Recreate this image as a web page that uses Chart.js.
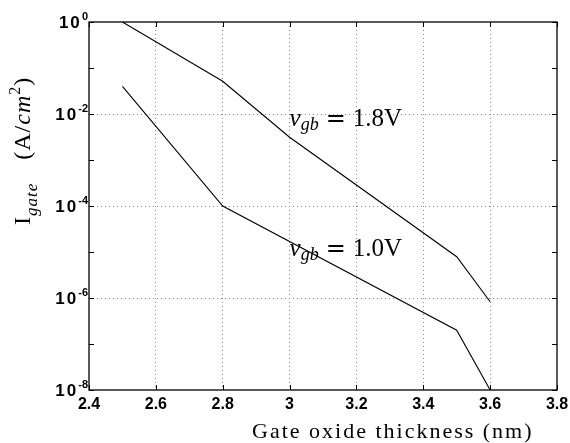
<!DOCTYPE html>
<html lang="en">
<head>
    <meta charset="UTF-8">
    <title>Gate current vs oxide thickness</title>
    <script src="https://cdn.jsdelivr.net/npm/chart.js"></script>
    <style>
        html, body { margin: 0; padding: 0; background: #fff; }
        #wrap { width: 570px; height: 443px; }
    </style>
</head>
<body>
    <div id="wrap"><canvas id="myChart" width="570" height="443"></canvas></div>
    <script>
        // values
        const thick18 = [2.5, 2.8, 3.0, 3.5, 3.6];
        const jgate18 = [1.0, 0.0515, 3.13e-3, 7.9e-6, 8.3e-7];
        const thick10 = [2.5, 2.8, 3.5, 3.6];
        const jgate10 = [0.040, 1.0e-4, 2.0e-7, 1.0e-8];

        const xTicks = [2.4, 2.6, 2.8, 3.0, 3.2, 3.4, 3.6, 3.8];
        const xTickLabels = ['2.4', '2.6', '2.8', '3', '3.2', '3.4', '3.6', '3.8'];
        const yDecades = [-8, -7, -6, -5, -4, -3, -2, -1, 0];
        const yLabelDecades = [-8, -6, -4, -2, 0];

        // label anchors (x, y in data units)
        const labels = [
            { x: 3.0, y: Math.pow(10, -2.26), sub: 'gb', rest: '1.8V' },
            { x: 3.0, y: Math.pow(10, -5.09), sub: 'gb', rest: '1.0V' }
        ];

        const SERIF = '"Liberation Serif", "DejaVu Serif", serif';
        const SANS = '"Liberation Sans", Arial, sans-serif';

        // draw a list of text runs one after another from (x, y)
        function drawRuns(ctx, runs, x, y) {
            let cx = x;
            runs.forEach(r => {
                if (r.gap) { cx += r.gap; return; }
                ctx.font = r.font;
                ctx.fillText(r.t, cx, y + (r.dy || 0));
                cx += ctx.measureText(r.t).width;
            });
            return cx - x;
        }

        const matlabAxes = {
            id: 'matlabAxes',
            afterDraw(chart) {
                const ctx = chart.ctx;
                const a = chart.chartArea;
                const xs = chart.scales.x, ys = chart.scales.y;
                ctx.save();
                ctx.strokeStyle = '#000';
                ctx.fillStyle = '#000';
                ctx.lineWidth = 1.3;
                ctx.strokeRect(a.left, a.top, a.right - a.left, a.bottom - a.top);

                // inner tick marks
                ctx.lineWidth = 1;
                ctx.beginPath();
                xTicks.forEach(v => {
                    const px = Math.round(xs.getPixelForValue(v)) + 0.5;
                    ctx.moveTo(px, a.bottom); ctx.lineTo(px, a.bottom - 5);
                    ctx.moveTo(px, a.top); ctx.lineTo(px, a.top + 5);
                });
                yDecades.forEach(k => {
                    const py = Math.round(ys.getPixelForValue(Math.pow(10, k))) + 0.5;
                    ctx.moveTo(a.left, py); ctx.lineTo(a.left + 5, py);
                    ctx.moveTo(a.right, py); ctx.lineTo(a.right - 5, py);
                });
                ctx.stroke();

                // x tick labels
                ctx.textAlign = 'center';
                ctx.textBaseline = 'alphabetic';
                ctx.font = 'bold 16px ' + SANS;
                xTicks.forEach((v, i) => {
                    ctx.fillText(xTickLabels[i], xs.getPixelForValue(v), a.bottom + 19);
                });

                // y tick labels 10^k
                ctx.textAlign = 'left';
                yLabelDecades.forEach(k => {
                    const py = ys.getPixelForValue(Math.pow(10, k));
                    const base = py + 6;
                    const exp = k === 0 ? '0' : '-' + (-k);
                    ctx.font = 'bold 11px ' + SANS;
                    const ew = ctx.measureText(exp).width;
                    const x0 = a.left - 2 - ew - 22;
                    ctx.font = 'bold 17px ' + SANS;
                    ctx.letterSpacing = '2px';
                    ctx.fillText('10', x0, base);
                    ctx.letterSpacing = '0px';
                    ctx.font = 'bold 11px ' + SANS;
                    ctx.fillText(exp, x0 + 23, base - 8);
                });

                // x axis title
                ctx.font = '22px ' + SERIF;
                ctx.letterSpacing = '2px';
                ctx.fillText('Gate oxide thickness (nm)', 252, 438);
                ctx.letterSpacing = '1px';

                // y axis title (rotated, reads bottom to top)
                ctx.save();
                ctx.translate(30, 225);
                ctx.rotate(-Math.PI / 2);
                drawRuns(ctx, [
                    { t: 'I', font: '24px ' + SERIF },
                    { t: 'gate', font: 'italic 17px ' + SERIF, dy: 7 },
                    { gap: 23 },
                    { t: '(A/', font: '24px ' + SERIF },
                    { t: 'cm', font: 'italic 24px ' + SERIF },
                    { t: '2', font: '16px ' + SERIF, dy: -10 },
                    { t: ')', font: '24px ' + SERIF }
                ], 0, 0);
                ctx.restore();
                ctx.letterSpacing = '0px';

                // curve labels
                labels.forEach(l => {
                    const px = xs.getPixelForValue(l.x);
                    const py = ys.getPixelForValue(l.y);
                    drawRuns(ctx, [
                        { t: 'v', font: 'italic 25px ' + SERIF },
                        { t: l.sub, font: 'italic 18px ' + SERIF, dy: 4 },
                        { gap: 7 },
                        { t: '=', font: '24px "DejaVu Serif", serif' },
                        { gap: 7 },
                        { t: l.rest, font: '25px ' + SERIF }
                    ], px, py);
                });
                ctx.restore();
            }
        };

        const gridColor = '#8c8c8c';

        const ctx = document.getElementById('myChart').getContext('2d');
        new Chart(ctx, {
            type: 'line',
            data: {
                datasets: [
                    {
                        label: 'v_gb = 1.8V',
                        data: thick18.map((v, i) => ({ x: v, y: jgate18[i] })),
                        borderColor: '#000',
                        borderWidth: 1.1,
                        pointRadius: 0,
                        tension: 0,
                        fill: false
                    },
                    {
                        label: 'v_gb = 1.0V',
                        data: thick10.map((v, i) => ({ x: v, y: jgate10[i] })),
                        borderColor: '#000',
                        borderWidth: 1.1,
                        pointRadius: 0,
                        tension: 0,
                        fill: false
                    }
                ]
            },
            options: {
                responsive: false,
                animation: false,
                layout: { padding: { left: 0, top: 22, right: 13, bottom: 0 } },
                plugins: {
                    legend: { display: false },
                    tooltip: { enabled: false }
                },
                scales: {
                    x: {
                        type: 'linear',
                        min: 2.4,
                        max: 3.8,
                        afterBuildTicks: s => { s.ticks = xTicks.map(v => ({ value: v })); },
                        afterFit: s => { s.height = 53; },
                        ticks: { display: false },
                        border: { display: false, dash: [1, 3] },
                        grid: {
                            drawTicks: false,
                            lineWidth: 1,
                            color: c => (c.index === 0 || c.index === xTicks.length - 1) ? 'rgba(0,0,0,0)' : gridColor
                        }
                    },
                    y: {
                        type: 'logarithmic',
                        min: 1e-8,
                        max: 1,
                        afterBuildTicks: s => { s.ticks = yDecades.map(k => ({ value: Math.pow(10, k) })); },
                        afterFit: s => { s.width = 89; },
                        ticks: { display: false },
                        border: { display: false, dash: [1, 3] },
                        grid: {
                            drawTicks: false,
                            lineWidth: 1,
                            color: c => {
                                const k = yDecades[c.index];
                                return (k % 2 === 0 && k !== 0 && k !== -8) ? gridColor : 'rgba(0,0,0,0)';
                            }
                        }
                    }
                }
            },
            plugins: [matlabAxes]
        });
    </script>
</body>
</html>
